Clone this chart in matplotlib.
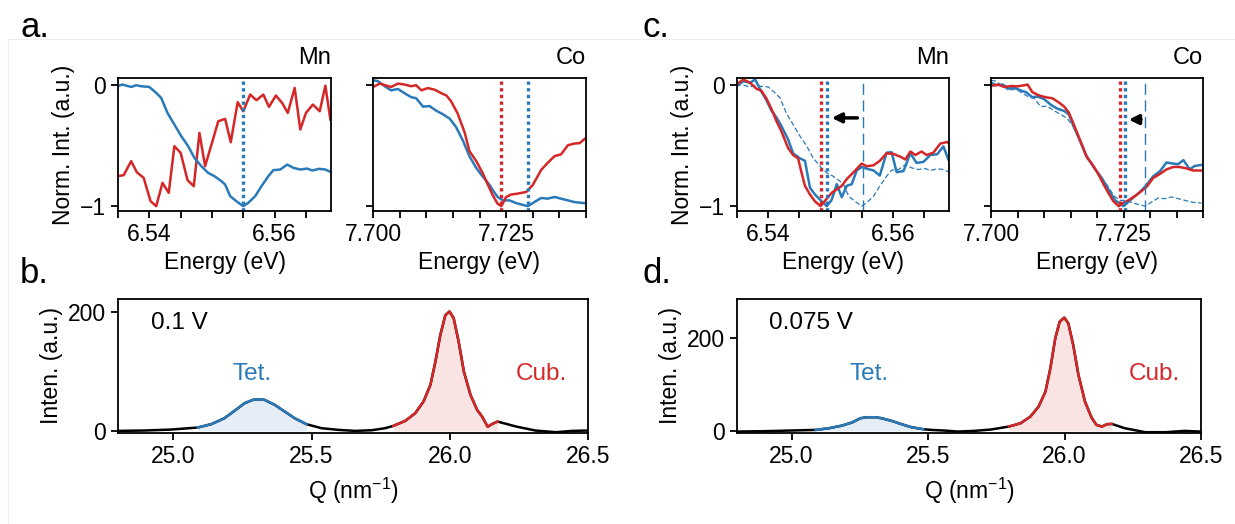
import numpy as np
import matplotlib
matplotlib.use("Agg")
import matplotlib.pyplot as plt
from matplotlib.ticker import MultipleLocator, FormatStrFormatter

plt.rcParams['font.family'] = ['Liberation Sans', 'DejaVu Sans']
plt.rcParams['mathtext.fontset'] = 'custom'
plt.rcParams['mathtext.rm'] = 'Liberation Sans'
plt.rcParams['mathtext.it'] = 'Liberation Sans:italic'
plt.rcParams['font.size'] = 16.5
plt.rcParams['axes.linewidth'] = 1.3

BLUE = '#2a7ab9'
RED = '#d62728'

# ---- panel a, Mn edge (0.1 V) ----
a_mn_blue_e = [6.5349, 6.5357, 6.5371, 6.5379, 6.5387, 6.5400, 6.5411, 6.5419, 6.5429, 6.5440,
               6.5451, 6.5462, 6.5472, 6.5483, 6.5494, 6.5504, 6.5515, 6.5521, 6.5529, 6.5539,
               6.5550, 6.5558, 6.5569, 6.5579, 6.5590, 6.5598, 6.5609, 6.5620, 6.5630, 6.5641,
               6.5652, 6.5660, 6.5671, 6.5681, 6.5689]
a_mn_blue = [-0.008, 0.006, -0.014, 0.0, -0.008, -0.014, -0.063, -0.105, -0.229, -0.325,
             -0.421, -0.504, -0.601, -0.669, -0.725, -0.752, -0.793, -0.821, -0.917, -0.959,
             -1.0, -0.972, -0.917, -0.835, -0.752, -0.702, -0.697, -0.656, -0.683, -0.697,
             -0.689, -0.705, -0.691, -0.697, -0.716]
a_mn_red_e = [6.5349, 6.5359, 6.5371, 6.5380, 6.5391, 6.5402, 6.5411, 6.5421, 6.5431, 6.5440,
              6.5450, 6.5461, 6.5471, 6.5480, 6.5489, 6.5500, 6.5510, 6.5521, 6.5530, 6.5541,
              6.5550, 6.5561, 6.5571, 6.5582, 6.5591, 6.5602, 6.5612, 6.5621, 6.5632, 6.5641,
              6.5650, 6.5661, 6.5672, 6.5681, 6.5689]
a_mn_red = [-0.752, -0.744, -0.628, -0.719, -0.766, -0.959, -1.0, -0.807, -0.890, -0.504,
            -0.559, -0.785, -0.835, -0.394, -0.669, -0.477, -0.298, -0.278, -0.471, -0.140,
            -0.215, -0.077, -0.124, -0.077, -0.179, -0.085, -0.146, -0.229, -0.022, -0.366,
            -0.229, -0.160, -0.215, -0.003, -0.284]

# ---- panel a, Co edge (0.1 V) ----
a_co_blue_e = [7.7000, 7.7009, 7.7022, 7.7034, 7.7047, 7.7059, 7.7072, 7.7081, 7.7094, 7.7106,
               7.7119, 7.7131, 7.7144, 7.7156, 7.7169, 7.7181, 7.7194, 7.7206, 7.7219, 7.7225,
               7.7234, 7.7244, 7.7256, 7.7269, 7.7281, 7.7291, 7.7303, 7.7316, 7.7328, 7.7341,
               7.7353, 7.7366, 7.7378, 7.7397]
a_co_blue = [0.042, 0.034, -0.008, -0.042, -0.031, -0.065, -0.099, -0.107, -0.177, -0.172,
             -0.211, -0.239, -0.276, -0.346, -0.459, -0.586, -0.685, -0.755, -0.825, -0.868,
             -0.924, -0.952, -0.952, -0.975, -0.989, -1.0, -0.966, -0.932, -0.938, -0.924,
             -0.938, -0.952, -0.966, -0.975]
a_co_red_e = [7.7000, 7.7013, 7.7025, 7.7034, 7.7047, 7.7059, 7.7072, 7.7081, 7.7091, 7.7103,
              7.7116, 7.7128, 7.7138, 7.7147, 7.7159, 7.7172, 7.7181, 7.7194, 7.7206, 7.7216,
              7.7225, 7.7234, 7.7241, 7.7250, 7.7259, 7.7272, 7.7288, 7.7300, 7.7316, 7.7328,
              7.7341, 7.7353, 7.7366, 7.7378, 7.7388, 7.7397]
a_co_red = [-0.014, 0.014, -0.003, -0.014, 0.014, 0.006, -0.008, 0.0, -0.042, -0.023,
            -0.037, -0.065, -0.085, -0.135, -0.234, -0.389, -0.544, -0.628, -0.727, -0.825,
            -0.910, -0.980, -1.0, -0.924, -0.904, -0.896, -0.882, -0.825, -0.699, -0.642,
            -0.586, -0.572, -0.496, -0.482, -0.479, -0.445]

# ---- panel c, Mn edge (0.075 V) ----
c_mn_red_e = [6.5349, 6.5360, 6.5371, 6.5381, 6.5389, 6.5397, 6.5405, 6.5413, 6.5421, 6.5432,
              6.5440, 6.5448, 6.5454, 6.5459, 6.5467, 6.5475, 6.5484, 6.5494, 6.5502, 6.5510,
              6.5518, 6.5526, 6.5537, 6.5550, 6.5558, 6.5569, 6.5579, 6.5590, 6.5601, 6.5612,
              6.5620, 6.5628, 6.5636, 6.5646, 6.5654, 6.5665, 6.5676, 6.5687, 6.5689]
c_mn_red = [0.006, 0.048, 0.020, -0.028, -0.045, -0.108, -0.193, -0.293, -0.378, -0.520,
            -0.577, -0.605, -0.733, -0.832, -0.903, -0.960, -1.0, -0.938, -0.889, -0.861,
            -0.832, -0.776, -0.719, -0.648, -0.670, -0.662, -0.625, -0.563, -0.568, -0.591,
            -0.614, -0.548, -0.577, -0.548, -0.577, -0.557, -0.483, -0.469, -0.477]
c_mn_blue_e = [6.5349, 6.5360, 6.5371, 6.5379, 6.5389, 6.5397, 6.5405, 6.5413, 6.5421, 6.5432,
               6.5440, 6.5451, 6.5459, 6.5467, 6.5475, 6.5483, 6.5494, 6.5502, 6.5510, 6.5518,
               6.5526, 6.5534, 6.5542, 6.5550, 6.5558, 6.5569, 6.5579, 6.5590, 6.5598, 6.5606,
               6.5617, 6.5628, 6.5638, 6.5649, 6.5660, 6.5671, 6.5681, 6.5689]
c_mn_blue = [-0.009, 0.034, 0.020, 0.048, -0.051, -0.122, -0.207, -0.264, -0.335, -0.449,
             -0.563, -0.605, -0.625, -0.847, -0.903, -0.946, -1.0, -0.946, -0.818, -0.926,
             -0.832, -0.818, -0.705, -0.676, -0.690, -0.705, -0.747, -0.557, -0.554, -0.719,
             -0.710, -0.563, -0.642, -0.634, -0.577, -0.571, -0.506, -0.614]

# ---- panel c, Co edge (0.075 V) ----
c_co_red_e = [7.7000, 7.7013, 7.7025, 7.7038, 7.7050, 7.7063, 7.7069, 7.7078, 7.7091, 7.7103,
              7.7116, 7.7128, 7.7138, 7.7147, 7.7159, 7.7172, 7.7181, 7.7191, 7.7203, 7.7213,
              7.7222, 7.7231, 7.7241, 7.7250, 7.7259, 7.7272, 7.7284, 7.7294, 7.7306, 7.7319,
              7.7331, 7.7344, 7.7356, 7.7369, 7.7381, 7.7397]
c_co_red = [-0.006, 0.006, -0.014, -0.006, -0.009, 0.0, 0.006, -0.057, -0.085, -0.099,
            -0.108, -0.142, -0.176, -0.227, -0.355, -0.497, -0.597, -0.653, -0.739, -0.824,
            -0.895, -0.960, -1.0, -0.972, -0.952, -0.915, -0.875, -0.838, -0.767, -0.733,
            -0.696, -0.676, -0.676, -0.688, -0.705, -0.705]
c_co_blue_e = [7.7000, 7.7009, 7.7022, 7.7034, 7.7044, 7.7056, 7.7066, 7.7078, 7.7088, 7.7100,
               7.7113, 7.7125, 7.7138, 7.7147, 7.7156, 7.7166, 7.7178, 7.7188, 7.7197, 7.7209,
               7.7222, 7.7234, 7.7244, 7.7250, 7.7266, 7.7278, 7.7291, 7.7306, 7.7319, 7.7331,
               7.7344, 7.7353, 7.7363, 7.7375, 7.7384, 7.7397]
c_co_blue = [0.023, 0.0, 0.006, -0.028, -0.020, -0.043, -0.057, -0.099, -0.094, -0.114,
             -0.162, -0.193, -0.213, -0.241, -0.341, -0.440, -0.568, -0.639, -0.696, -0.767,
             -0.866, -0.952, -0.980, -1.0, -0.938, -0.895, -0.838, -0.753, -0.710, -0.639,
             -0.648, -0.653, -0.619, -0.696, -0.668, -0.659]

# edge positions (keV) of the minima
a_mn_lines = {'blue': 6.5550}
a_co_lines = {'red': 7.7240, 'blue': 7.7292}
c_mn_lines = {'red': 6.5484, 'blue': 6.5494, 'ref': 6.5552}
c_co_lines = {'red': 7.7243, 'blue': 7.7252, 'ref': 7.7290}
c_mn_arrow = (6.5543, 6.5502, -0.27)
c_co_arrow = (7.7283, 7.7260, -0.284)

# ---- panel b / d diffraction ----
b_q = [24.80, 24.894, 24.991, 25.088, 25.137, 25.185, 25.221, 25.258, 25.288, 25.306,
       25.330, 25.367, 25.403, 25.439, 25.482, 25.536, 25.597, 25.657, 25.718, 25.766,
       25.796, 25.839, 25.875, 25.905, 25.930, 25.948, 25.966, 25.984, 25.999, 26.014,
       26.032, 26.051, 26.075, 26.099, 26.117, 26.137, 26.155, 26.173, 26.24, 26.31,
       26.385, 26.442, 26.50]
b_int = [0.0, 0.6, 2.2, 5.6, 11.2, 21.2, 33.5, 46.4, 52.0, 53.0,
         52.0, 43.6, 32.4, 21.2, 11.2, 4.5, 1.7, 0.0, 1.1, 4.5,
         8.4, 16.8, 29.6, 49.2, 77.1, 116.0, 161.0, 194.0, 200.0, 189.0,
         150.0, 99.4, 60.3, 35.2, 24.0, 7.0, 12.0, 15.6, 7.3, 0.6,
         -2.2, 0.0, 0.6]
d_q = [24.80, 24.894, 24.991, 25.088, 25.137, 25.185, 25.221, 25.252, 25.276, 25.306,
       25.330, 25.367, 25.403, 25.439, 25.482, 25.512, 25.560, 25.609, 25.669, 25.730,
       25.796, 25.839, 25.875, 25.905, 25.930, 25.948, 25.966, 25.982, 25.999, 26.014,
       26.032, 26.051, 26.075, 26.099, 26.117, 26.137, 26.155, 26.173, 26.22, 26.296,
       26.37, 26.44, 26.50]
d_int = [-1.4, -0.7, 0.7, 2.1, 5.7, 11.4, 17.9, 27.1, 29.3, 29.3,
         27.1, 21.4, 14.3, 7.9, 3.6, 2.1, 0.7, -1.4, 0.0, 2.9,
         9.3, 16.4, 30.7, 52.1, 84.3, 134.0, 198.5, 234.0, 243.0, 230.6,
         184.0, 120.0, 62.8, 28.6, 12.9, 9.3, 14.3, 15.0, 5.8, -2.8,
         -2.8, 0.0, -1.5]
tet_range = (25.088, 25.482)
cub_range = (25.796, 26.173)

fig = plt.figure(figsize=(12.35, 5.24), dpi=100)

# faint frame seen in the reference
fig.add_artist(plt.Line2D([8 / 1235, 1], [1 - 39 / 524] * 2, color='#eeeeee', lw=0.8))
fig.add_artist(plt.Line2D([8 / 1235] * 2, [0, 1 - 39 / 524], color='#eeeeee', lw=0.8))

W, H = 1235, 524


def axes_px(l, t, r, b):
    return fig.add_axes([l / W, 1 - b / H, (r - l) / W, (b - t) / H])


ax_amn = axes_px(118, 78, 331, 211)
ax_aco = axes_px(373, 78, 586, 211)
ax_cmn = axes_px(737, 78, 949, 211)
ax_cco = axes_px(991, 78, 1203, 211)
ax_b = axes_px(118, 299, 588, 433)
ax_d = axes_px(737, 299, 1201, 433)

lw = 1.8
dot = (0, (1, 1))


def style_edge(ax, elem, mn):
    if mn:
        ax.set_xlim(6.535, 6.569)
        ax.set_xticks([6.54, 6.56])
        ax.xaxis.set_major_formatter(FormatStrFormatter('%.2f'))
        ax.set_ylabel('Norm. Int. (a.u.)')
    else:
        ax.set_xlim(7.700, 7.740)
        ax.set_xticks([7.700, 7.725])
        ax.xaxis.set_major_formatter(FormatStrFormatter('%.3f'))
        ax.set_yticklabels([])
    ax.xaxis.set_minor_locator(MultipleLocator(0.005))
    ax.set_ylim(-1.04, 0.06)
    ax.set_yticks([-1, 0])
    if mn:
        ax.set_yticklabels(['\u22121', '0'])
    ax.tick_params(which='both', length=5, width=1.3)
    ax.set_xlabel('Energy (eV)', labelpad=4)
    ax.set_title(elem, loc='right', pad=10, fontsize=17)


# panel a
ax_amn.plot(a_mn_red_e, a_mn_red, color=RED, lw=lw)
ax_amn.plot(a_mn_blue_e, a_mn_blue, color=BLUE, lw=lw)
ax_amn.axvline(a_mn_lines['blue'], color=BLUE, lw=2.4, ls=dot)
style_edge(ax_amn, 'Mn', True)

ax_aco.plot(a_co_blue_e, a_co_blue, color=BLUE, lw=lw)
ax_aco.plot(a_co_red_e, a_co_red, color=RED, lw=lw)
ax_aco.axvline(a_co_lines['red'], color=RED, lw=2.4, ls=dot)
ax_aco.axvline(a_co_lines['blue'], color=BLUE, lw=2.4, ls=dot)
style_edge(ax_aco, 'Co', False)

# panel c
ax_cmn.plot(a_mn_blue_e, a_mn_blue, color=BLUE, lw=0.9, ls=(0, (4, 2)))
ax_cmn.plot(c_mn_blue_e, c_mn_blue, color=BLUE, lw=lw)
ax_cmn.plot(c_mn_red_e, c_mn_red, color=RED, lw=lw)
ax_cmn.axvline(c_mn_lines['red'], color=RED, lw=2.4, ls=dot)
ax_cmn.axvline(c_mn_lines['blue'], color=BLUE, lw=2.4, ls=dot)
ax_cmn.axvline(c_mn_lines['ref'], color=BLUE, lw=1.0, ls=(0, (8, 4)))
ax_cmn.annotate('', xy=(c_mn_arrow[1], c_mn_arrow[2]), xytext=(c_mn_arrow[0], c_mn_arrow[2]),
                arrowprops=dict(arrowstyle='-|>', color='k', lw=2.5, mutation_scale=14,
                                shrinkA=0, shrinkB=0))
style_edge(ax_cmn, 'Mn', True)

ax_cco.plot(a_co_blue_e, a_co_blue, color=BLUE, lw=0.9, ls=(0, (4, 2)))
ax_cco.plot(c_co_blue_e, c_co_blue, color=BLUE, lw=lw)
ax_cco.plot(c_co_red_e, c_co_red, color=RED, lw=lw)
ax_cco.axvline(c_co_lines['red'], color=RED, lw=2.4, ls=dot)
ax_cco.axvline(c_co_lines['blue'], color=BLUE, lw=2.4, ls=dot)
ax_cco.axvline(c_co_lines['ref'], color=BLUE, lw=1.0, ls=(0, (8, 4)))
ax_cco.annotate('', xy=(c_co_arrow[1], c_co_arrow[2]), xytext=(c_co_arrow[0], c_co_arrow[2]),
                arrowprops=dict(arrowstyle='-|>', color='k', lw=2.5, mutation_scale=14,
                                shrinkA=0, shrinkB=0))
style_edge(ax_cco, 'Co', False)


def diffraction(ax, q, inten, voltage, ytop):
    q = np.array(q)
    inten = np.array(inten)
    ax.plot(q, inten, color='k', lw=lw)
    for (lo, hi), col, fa in [(tet_range, BLUE, 0.12), (cub_range, RED, 0.13)]:
        m = (q >= lo) & (q <= hi)
        ax.fill_between(q[m], 0, inten[m], color=col, alpha=fa, lw=0)
        ax.plot(q[m], inten[m], color=col, lw=lw)
    ax.set_xlim(24.8, 26.5)
    ax.set_xticks([25.0, 25.5, 26.0, 26.5])
    ax.set_ylim(ytop * -0.016, ytop)
    ax.set_yticks([0, 200])
    ax.tick_params(length=5, width=1.3)
    ax.set_xlabel('Q (nm$^{-1}$)', labelpad=6)
    ax.set_ylabel('Inten. (a.u.)')
    ax.text(0.07, 0.9, voltage, transform=ax.transAxes, va='top', ha='left', fontsize=17.5)
    ax.text(25.285, ytop * 0.43, 'Tet.', color=BLUE, ha='center', va='center', fontsize=17.5)
    ax.text(26.33, ytop * 0.43, 'Cub.', color=RED, ha='center', va='center', fontsize=17.5)


diffraction(ax_b, b_q, b_int, '0.1 V', 221)
diffraction(ax_d, d_q, d_int, '0.075 V', 283)

# panel letters
for lab, x, y in [('a.', 20, 37), ('b.', 20, 283), ('c.', 643, 37), ('d.', 643, 283)]:
    fig.text(x / W, 1 - y / H, lab, fontsize=25, ha='left', va='baseline')

fig.savefig('out.png', dpi=100)
